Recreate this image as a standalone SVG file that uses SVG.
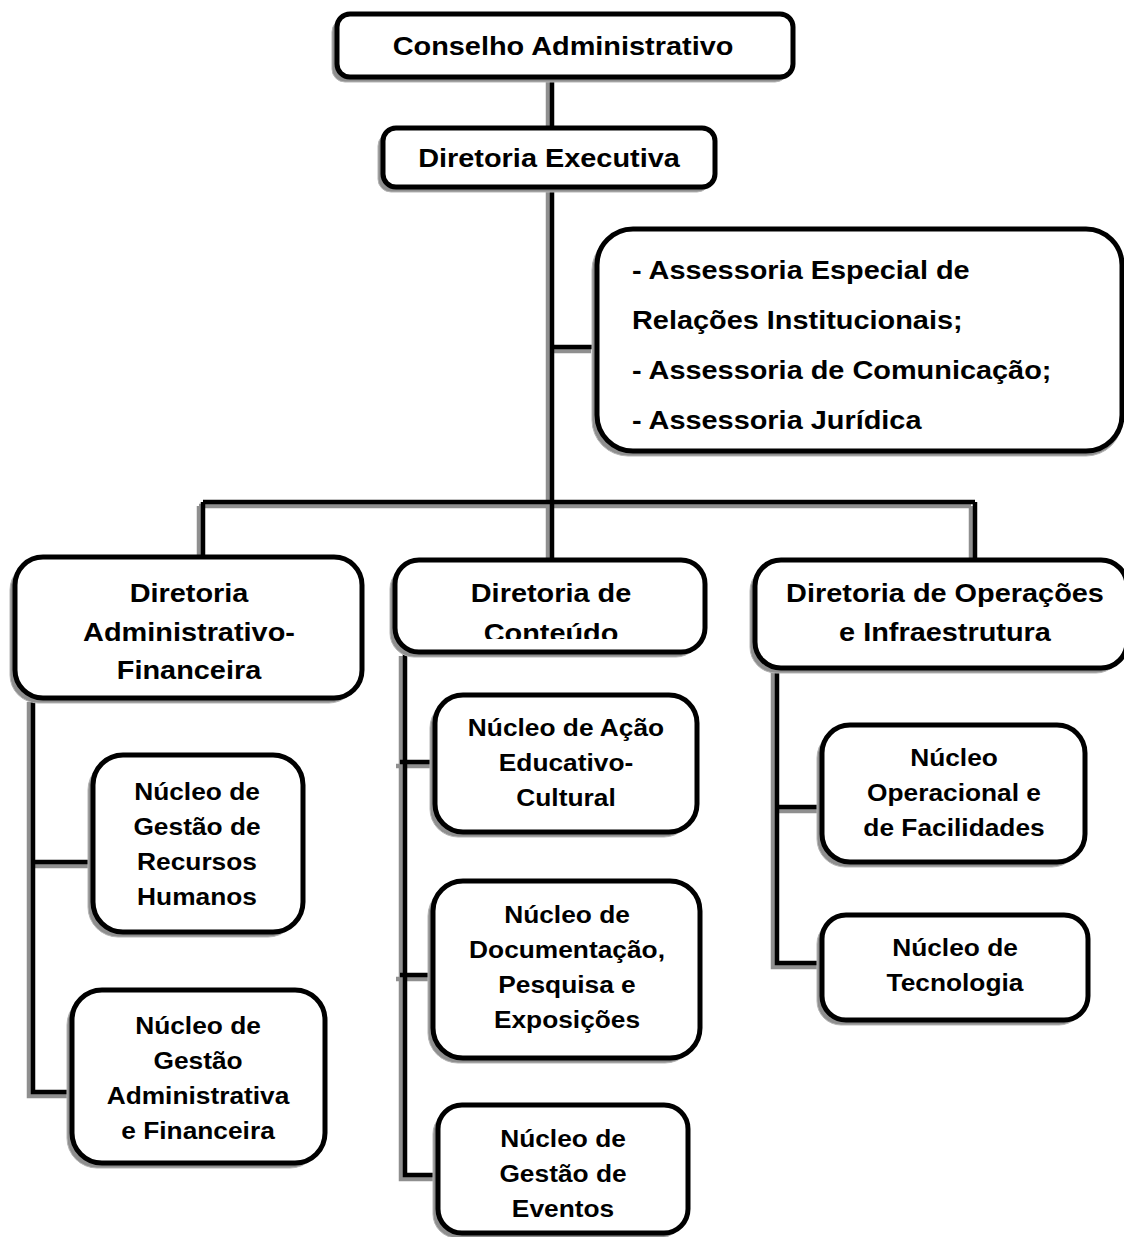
<svg xmlns="http://www.w3.org/2000/svg" xmlns:xlink="http://www.w3.org/1999/xlink" width="1124" height="1237" viewBox="0 0 1124 1237">
<style>
.bg{fill:#ffffff}
.sh{fill:#8f8f8f;stroke:#b5b5b5;stroke-width:1}
.bx{fill:#ffffff;stroke:#000000;stroke-width:5}
.t{font-family:"Liberation Sans",Arial,sans-serif;font-weight:bold;fill:#000000;text-anchor:middle}
.big{font-size:25.8px}
.sm{font-size:23.5px}
.ls{font-family:"Liberation Sans",Arial,sans-serif;font-weight:bold;fill:#000000;font-size:25.8px}
</style>
<defs>
<clipPath id="clipConteudo" clipPathUnits="userSpaceOnUse"><rect x="380" y="560" width="340" height="79"/></clipPath>
<g id="lines">
<path d="M552 77 V128"/>
<path d="M552 187 V502"/>
<path d="M552 347 H595"/>
<path d="M203 502 H975"/>
<path d="M203 502 V557"/>
<path d="M552 502 V560"/>
<path d="M975 502 V560"/>
<path d="M33 698 V1092 H72"/>
<path d="M33 862 H93"/>
<path d="M405 652 V1175 H440"/>
<path d="M400 762 H437"/>
<path d="M400 975 H433"/>
<path d="M777 668 V963 H822"/>
<path d="M777 807 H822"/>
</g>
</defs>
<rect class="bg" x="0" y="0" width="1124" height="1237"/>
<g id="connectors" fill="none" stroke-width="4.5">
<use xlink:href="#lines" href="#lines" stroke="#8f8f8f" transform="translate(-4 4)"/>
<use xlink:href="#lines" href="#lines" stroke="#000000"/>
</g>
<g id="conselho">
<rect class="sh" x="332" y="19" width="456" height="63" rx="13"/>
<rect class="bx" x="337" y="14" width="456" height="63" rx="13"/>
<text class="t big" transform="translate(563 0) scale(1.12 1)"><tspan x="0" y="55">Conselho Administrativo</tspan></text>
</g>
<g id="executiva">
<rect class="sh" x="378" y="133" width="332" height="59" rx="13"/>
<rect class="bx" x="383" y="128" width="332" height="59" rx="13"/>
<text class="t big" transform="translate(549 0) scale(1.12 1)"><tspan x="0" y="167">Diretoria Executiva</tspan></text>
</g>
<g id="assessorias">
<rect class="sh" x="592" y="234" width="530" height="222" rx="36"/>
<rect class="bx" x="597" y="229" width="525" height="222" rx="36"/>
<text class="ls" transform="translate(632 0) scale(1.12 1)"><tspan x="0" y="279">- Assessoria Especial de</tspan><tspan x="0" y="329">Relações Institucionais;</tspan><tspan x="0" y="379">- Assessoria de Comunicação;</tspan><tspan x="0" y="429">- Assessoria Jurídica</tspan></text>
</g>
<g id="dir-adm-fin">
<rect class="sh" x="10" y="562" width="347" height="141" rx="28"/>
<rect class="bx" x="15" y="557" width="347" height="141" rx="28"/>
<text class="t big" transform="translate(189 0) scale(1.12 1)"><tspan x="0" y="602">Diretoria</tspan><tspan x="0" y="641">Administrativo-</tspan><tspan x="0" y="679">Financeira</tspan></text>
</g>
<g id="dir-conteudo">
<rect class="sh" x="390" y="565" width="310" height="92" rx="24"/>
<rect class="bx" x="395" y="560" width="310" height="92" rx="24"/>
<g clip-path="url(#clipConteudo)">
<text class="t big" transform="translate(551 0) scale(1.12 1)"><tspan x="0" y="602">Diretoria de</tspan><tspan x="0" y="642">Conteúdo</tspan></text>
</g>
</g>
<g id="dir-operacoes">
<rect class="sh" x="750" y="565" width="372" height="108" rx="26"/>
<rect class="bx" x="755" y="560" width="372" height="108" rx="26"/>
<text class="t big" transform="translate(945 0) scale(1.12 1)"><tspan x="0" y="602">Diretoria de Operações</tspan><tspan x="0" y="641">e Infraestrutura</tspan></text>
</g>
<g id="nucleo-rh">
<rect class="sh" x="88" y="760" width="210" height="177" rx="30"/>
<rect class="bx" x="93" y="755" width="210" height="177" rx="30"/>
<text class="t sm" transform="translate(197 0) scale(1.12 1)"><tspan x="0" y="800">Núcleo de</tspan><tspan x="0" y="835">Gestão de</tspan><tspan x="0" y="870">Recursos</tspan><tspan x="0" y="905">Humanos</tspan></text>
</g>
<g id="nucleo-gestao-adm">
<rect class="sh" x="67" y="995" width="253" height="173" rx="30"/>
<rect class="bx" x="72" y="990" width="253" height="173" rx="30"/>
<text class="t sm" transform="translate(198 0) scale(1.12 1)"><tspan x="0" y="1034">Núcleo de</tspan><tspan x="0" y="1069">Gestão</tspan><tspan x="0" y="1104">Administrativa</tspan><tspan x="0" y="1139">e Financeira</tspan></text>
</g>
<g id="nucleo-acao">
<rect class="sh" x="430" y="700" width="262" height="137" rx="28"/>
<rect class="bx" x="435" y="695" width="262" height="137" rx="28"/>
<text class="t sm" transform="translate(566 0) scale(1.12 1)"><tspan x="0" y="736">Núcleo de Ação</tspan><tspan x="0" y="771">Educativo-</tspan><tspan x="0" y="806">Cultural</tspan></text>
</g>
<g id="nucleo-documentacao">
<rect class="sh" x="428" y="886" width="267" height="177" rx="30"/>
<rect class="bx" x="433" y="881" width="267" height="177" rx="30"/>
<text class="t sm" transform="translate(567 0) scale(1.12 1)"><tspan x="0" y="923">Núcleo de</tspan><tspan x="0" y="958">Documentação,</tspan><tspan x="0" y="993">Pesquisa e</tspan><tspan x="0" y="1028">Exposições</tspan></text>
</g>
<g id="nucleo-eventos">
<rect class="sh" x="433" y="1110" width="250" height="128" rx="24"/>
<rect class="bx" x="438" y="1105" width="250" height="128" rx="24"/>
<text class="t sm" transform="translate(563 0) scale(1.12 1)"><tspan x="0" y="1147">Núcleo de</tspan><tspan x="0" y="1182">Gestão de</tspan><tspan x="0" y="1217">Eventos</tspan></text>
</g>
<g id="nucleo-operacional">
<rect class="sh" x="817" y="730" width="263" height="137" rx="28"/>
<rect class="bx" x="822" y="725" width="263" height="137" rx="28"/>
<text class="t sm" transform="translate(954 0) scale(1.12 1)"><tspan x="0" y="766">Núcleo</tspan><tspan x="0" y="801">Operacional e</tspan><tspan x="0" y="836">de Facilidades</tspan></text>
</g>
<g id="nucleo-tecnologia">
<rect class="sh" x="817" y="920" width="266" height="105" rx="24"/>
<rect class="bx" x="822" y="915" width="266" height="105" rx="24"/>
<text class="t sm" transform="translate(955 0) scale(1.12 1)"><tspan x="0" y="956">Núcleo de</tspan><tspan x="0" y="991">Tecnologia</tspan></text>
</g>
</svg>
